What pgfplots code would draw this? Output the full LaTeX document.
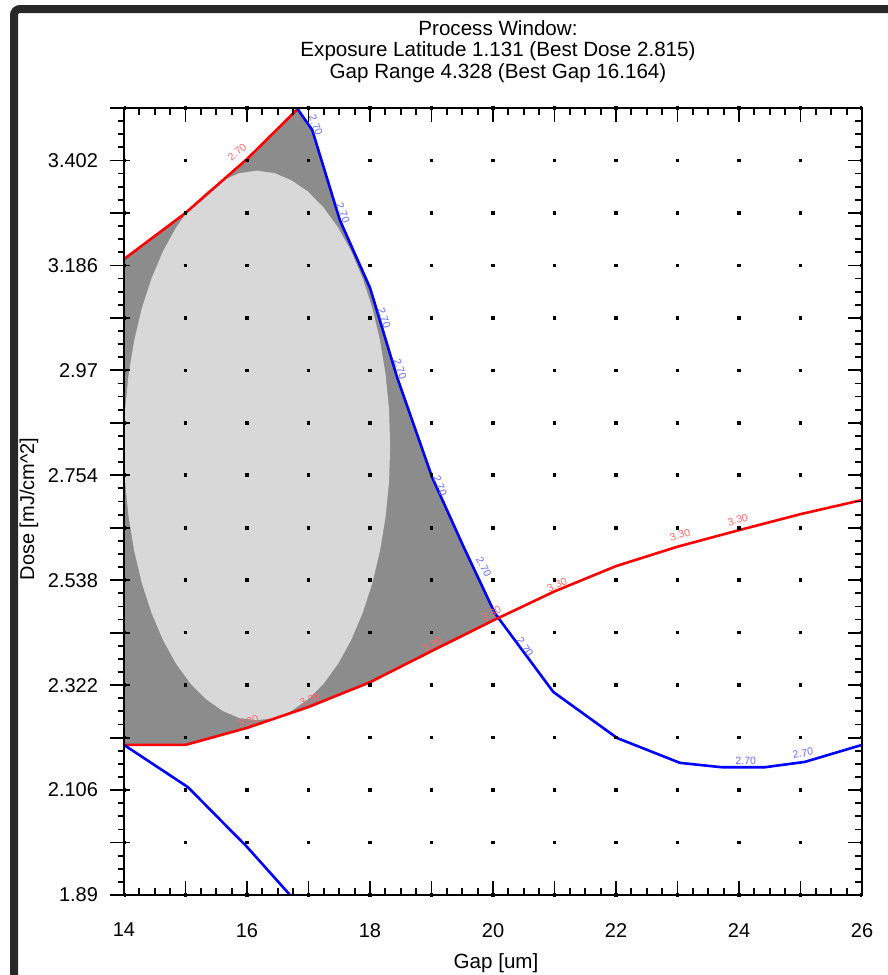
\documentclass[border=0pt]{standalone}
\usepackage{fontspec}
\setmainfont{Liberation Sans}
\usepackage{pgfplots}
\pgfplotsset{compat=1.18}

\definecolor{darkfill}{RGB}{140,140,140}
\definecolor{lightfill}{RGB}{216,216,216}
\definecolor{lblred}{RGB}{255,105,105}
\definecolor{lblblue}{RGB}{105,105,255}
\definecolor{framecol}{RGB}{40,40,40}

% contour label: x, y, angle, colour, text
\newcommand{\clab}[5]{\node[font=\fontsize{5.3}{5.3}\selectfont, text=#4, rotate=#3, inner sep=0pt] at (axis cs:#1,#2) {#5};}

\begin{document}
\begin{tikzpicture}
\path[use as bounding box] (0,0) rectangle (444pt,-487.5pt);
\draw[framecol, line width=4pt, rounded corners=3pt] (7pt,-487.5pt) -- (7pt,-4.5pt) -- (444pt,-4.5pt);

\begin{axis}[
    at={(62pt,-447.5pt)}, anchor=south west,
    scale only axis, width=369pt, height=393.5pt,
    xmin=14, xmax=26, ymin=1.89, ymax=3.51,
    axis on top, tick align=inside,
    xtick={14,...,26},
    xticklabels={14,,16,,18,,20,,22,,24,,26},
    minor x tick num=3,
    ytick={1.89,1.998,2.106,2.214,2.322,2.43,2.538,2.646,2.754,2.862,2.97,3.078,3.186,3.294,3.402,3.51},
    yticklabel=\empty,
    ytick pos=right,
    minor y tick num=3,
    major tick length=7pt, minor tick length=3.5pt,
    axis line style={line width=1.2pt},
    tick style={black, line width=0.9pt},
    tick label style={font=\fontsize{10}{12}\selectfont},
    xticklabel style={yshift=-10.5pt},
]
% failing region between the contours
\addplot[fill=darkfill, draw=none] coordinates {
    (14,3.199) (15,3.294) (16,3.405) (16.81,3.510) (17.06,3.465) (17.51,3.279)
    (18.0,3.140) (18.44,2.956) (19.01,2.750) (19.51,2.610) (20.03,2.470) (20.15,2.462)
    (20,2.455) (19,2.392) (18,2.328) (17,2.277) (16,2.234) (15,2.199) (14,2.199)
} -- cycle;
% process window ellipse
\addplot[fill=lightfill, draw=none] coordinates {
    (18.328,2.815) (18.310,2.889) (18.254,2.961) (18.163,3.031) (18.038,3.098) (17.881,3.159)
    (17.694,3.215) (17.481,3.264) (17.246,3.305) (16.992,3.338) (16.724,3.361) (16.447,3.376)
    (16.164,3.381) (15.881,3.376) (15.604,3.361) (15.336,3.338) (15.082,3.305) (14.847,3.264)
    (14.634,3.215) (14.447,3.159) (14.290,3.098) (14.165,3.031) (14.074,2.961) (14.018,2.889)
    (14.000,2.815) (14.018,2.741) (14.074,2.669) (14.165,2.599) (14.290,2.532) (14.447,2.471)
    (14.634,2.415) (14.847,2.366) (15.082,2.325) (15.336,2.293) (15.604,2.269) (15.881,2.254)
    (16.164,2.250) (16.447,2.254) (16.724,2.269) (16.992,2.293) (17.246,2.325) (17.481,2.366)
    (17.694,2.415) (17.881,2.471) (18.038,2.532) (18.163,2.599) (18.254,2.669) (18.310,2.741)
} -- cycle;

\addplot[red, line width=1.3pt] coordinates {
    (14,3.199) (15,3.294) (16,3.405) (17,3.53)
};
\addplot[blue, line width=1.3pt] coordinates {
    (16.70,3.53) (17.06,3.465) (17.51,3.279) (18.0,3.140) (18.44,2.956) (19.01,2.750)
    (19.51,2.610) (20.03,2.470) (20.98,2.308) (22.02,2.213) (23.04,2.162) (23.72,2.153)
    (24.42,2.153) (25.07,2.164) (26.0,2.199)
};
\addplot[red, line width=1.3pt] coordinates {
    (14,2.199) (15,2.199) (16,2.234) (17,2.277) (18,2.328) (19,2.392) (20,2.455)
    (21,2.515) (22,2.567) (23,2.607) (24,2.641) (25,2.674) (26,2.703)
};
\addplot[blue, line width=1.3pt] coordinates {
    (14,2.199) (15.04,2.112) (16,1.989) (16.7,1.89) (16.75,1.88)
};

\clab{15.84}{3.419}{40}{lblred}{2.70}
\clab{17.12}{3.475}{-68}{lblblue}{2.70}
\clab{17.56}{3.294}{-70}{lblblue}{2.70}
\clab{18.23}{3.078}{-72}{lblblue}{2.70}
\clab{18.49}{2.973}{-72}{lblblue}{2.70}
\clab{19.14}{2.732}{-68}{lblblue}{2.70}
\clab{19.85}{2.565}{-62}{lblblue}{2.70}
\clab{20.52}{2.400}{-55}{lblblue}{2.70}
\clab{24.11}{2.166}{0}{lblblue}{2.70}
\clab{25.04}{2.182}{10}{lblblue}{2.70}
\clab{16.02}{2.248}{18}{lblred}{3.30}
\clab{17.02}{2.293}{20}{lblred}{3.30}
\clab{19.01}{2.405}{28}{lblred}{3.30}
\clab{19.97}{2.470}{28}{lblred}{3.30}
\clab{21.04}{2.528}{25}{lblred}{3.30}
\clab{23.04}{2.631}{17}{lblred}{3.30}
\clab{23.98}{2.662}{15}{lblred}{3.30}
\end{axis}

% left ticks, tick labels and the dot grid
\begin{axis}[
    at={(62pt,-447.5pt)}, anchor=south west,
    scale only axis, width=369pt, height=393.5pt,
    xmin=14, xmax=26, ymin=1.89, ymax=3.51,
    hide x axis, axis y line*=left,
    tick align=outside,
    ytick={1.89,1.998,2.106,2.214,2.322,2.43,2.538,2.646,2.754,2.862,2.97,3.078,3.186,3.294,3.402,3.51},
    yticklabels={1.89,,2.106,,2.322,,2.538,,2.754,,2.97,,3.186,,3.402,},
    minor y tick num=3,
    major tick length=10pt, minor tick length=3pt,
    major tick style={black, line width=0.9pt, xshift=3pt},
    minor tick style={black, line width=0.9pt},
    axis line style={line width=1.2pt},
    tick label style={font=\fontsize{10}{12}\selectfont},
    yticklabel style={xshift=0.5pt},
    ymajorgrids,
    major grid style={black, line width=1.8pt, dash pattern=on 1.8pt off 28.95pt, dash phase=0.9pt},
]
\end{axis}

\node[font=\fontsize{10.3}{10.75}\selectfont, align=center] at (249pt,-25.75pt)
    {Process Window:\\Exposure Latitude 1.131 (Best Dose 2.815)\\Gap Range 4.328 (Best Gap 16.164)};
\node[font=\fontsize{10.3}{12}\selectfont] at (248pt,-481.5pt) {Gap [um]};
\node[font=\fontsize{10}{12}\selectfont, rotate=90] at (14.5pt,-254.5pt) {Dose [mJ/cm\textasciicircum 2]};
\end{tikzpicture}
\end{document}
